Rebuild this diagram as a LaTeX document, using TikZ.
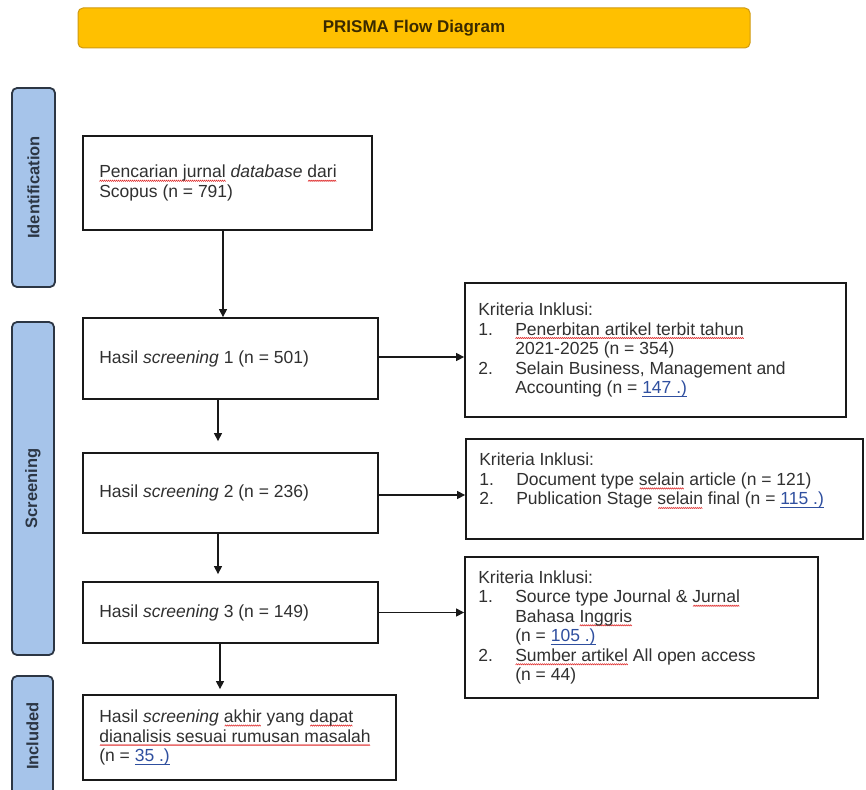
\documentclass[tikz,border=0pt]{standalone}
\usepackage{fontspec}
\setmainfont{Liberation Sans}
\usetikzlibrary{arrows.meta}
\definecolor{titlefill}{HTML}{FFC000}
\definecolor{titledraw}{HTML}{D09A10}
\definecolor{titletext}{HTML}{3A2A00}
\definecolor{sidefill}{HTML}{A6C4EA}
\definecolor{sidedraw}{HTML}{2C3644}
\definecolor{bodytext}{HTML}{303030}
\definecolor{linkblue}{HTML}{2F4F9F}
\definecolor{waveRed}{HTML}{E03030}
\newsavebox\wavebx
\newsavebox\tmpbx
\newcommand\redsq[1]{\sbox\tmpbx{#1}\sbox\wavebx{\tikz[x=1pt,y=1pt,baseline=0pt]{\useasboundingbox (0,0) rectangle (2,1.2);\draw[waveRed,line width=0.6pt,line cap=round](0,0)--(1,1.2)--(2,0);}}\rlap{\lower3.6pt\hbox to \wd\tmpbx{\cleaders\copy\wavebx\hfill}}\usebox\tmpbx}
\newcommand\blueul[1]{{\color{linkblue}\sbox\tmpbx{#1}\rlap{\rule[-2.8pt]{\wd\tmpbx}{0.7pt}}\usebox\tmpbx}}
\begin{document}
\begin{tikzpicture}[x=1pt,y=-1pt,
  titlebox/.style={draw=titledraw,line width=1pt,fill=titlefill,rounded corners=5pt,inner sep=0pt,
    text=titletext,font=\bfseries\fontsize{17}{20}\selectfont},
  sidebox/.style={draw=sidedraw,line width=1.8pt,fill=sidefill,rounded corners=5pt,inner sep=0pt},
  sidelabel/.style={rotate=90,inner sep=0pt,text=sidedraw,font=\bfseries\fontsize{16.5}{19}\selectfont},
  mainbox/.style={draw=black!90,line width=1.8pt,fill=white,inner sep=0pt},
  txt/.style={inner sep=0pt,align=left,text=bodytext,font=\fontsize{17.5}{19.5}\selectfont},
  arr/.style={draw=black!90,line width=1.2pt,-{Triangle[length=8pt,width=8pt]}}]
\clip (0,0) rectangle (866,789);
\fill[white] (0,0) rectangle (866,789);
% title
\node[titlebox,minimum width=672pt,minimum height=40pt] (title) at (414,28) {PRISMA Flow Diagram};
% side boxes
\node[sidebox,minimum width=43pt,minimum height=199pt] (sid) at (33.5,187.5) {};
\node[sidelabel] (lid) at (sid.center) {Identification};
\node[sidebox,minimum width=42pt,minimum height=333pt] (sscr) at (33,488.5) {};
\node[sidelabel] (lscr) at (sscr.center) {Screening};
\node[sidebox,minimum width=41pt,minimum height=120pt] (sinc) at (32.5,736) {};
\node[sidelabel] (linc) at (sinc.center) {Included};
% main boxes
\node[mainbox,minimum width=289pt,minimum height=94pt] (b1) at (227.5,183) {};
\node[txt,anchor=west] (t1) at ([xshift=17pt]b1.west) {\redsq{Pencarian jurnal} \textit{database} \redsq{dari}\\Scopus (n = 791)};
\node[mainbox,minimum width=295pt,minimum height=81pt] (s1) at (230.5,358.5) {};
\node[txt,anchor=west] (ts1) at ([xshift=17pt]s1.west) {Hasil \textit{screening} 1 (n = 501)};
\node[mainbox,minimum width=295pt,minimum height=80pt] (s2) at (230.5,493) {};
\node[txt,anchor=west] (ts2) at ([xshift=17pt]s2.west) {Hasil \textit{screening} 2 (n = 236)};
\node[mainbox,minimum width=295pt,minimum height=61pt] (s3) at (230.5,612.5) {};
\node[txt,anchor=west] (ts3) at ([xshift=17pt]s3.west) {Hasil \textit{screening} 3 (n = 149)};
\node[mainbox,minimum width=313pt,minimum height=85pt] (fin) at (239.5,737.5) {};
\node[txt,anchor=west] (tfin) at ([xshift=17pt]fin.west) {Hasil \textit{screening} \redsq{akhir} yang \redsq{dapat}\\\redsq{dianalisis sesuai rumusan masalah}\\(n = \blueul{35 .)}};
% right boxes
\node[mainbox,minimum width=381pt,minimum height=134pt] (r1) at (655.5,350) {};
\node[txt,anchor=west] (tr1) at ([xshift=14pt]r1.west) {Kriteria Inklusi:\\
\makebox[37pt][l]{1.}\redsq{Penerbitan artikel terbit tahun}\\
\hspace*{37pt}2021-2025 (n = 354)\\
\makebox[37pt][l]{2.}Selain Business, Management and\\
\hspace*{37pt}Accounting (n = \blueul{147 .)}};
\node[mainbox,minimum width=397pt,minimum height=100pt] (r2) at (664.5,489) {};
\node[txt,anchor=north west] (tr2) at ([xshift=14pt,yshift=-15pt]r2.north west) {Kriteria Inklusi:\\
\makebox[37pt][l]{1.}Document type \redsq{selain} article (n = 121)\\
\makebox[37pt][l]{2.}Publication Stage \redsq{selain} final (n = \blueul{115 .)}};
\node[mainbox,minimum width=353pt,minimum height=141pt] (r3) at (641.5,627.5) {};
\node[txt,anchor=west] (tr3) at ([xshift=14pt]r3.west) {Kriteria Inklusi:\\
\makebox[37pt][l]{1.}Source type Journal \& \redsq{Jurnal}\\
\hspace*{37pt}Bahasa \redsq{Inggris}\\
\hspace*{37pt}(n = \blueul{105 .)}\\
\makebox[37pt][l]{2.}\redsq{Sumber artikel} All open access\\
\hspace*{37pt}(n = 44)};
% connectors
\draw[arr] ([xshift=-4.5pt]b1.south) -- ([xshift=-4.5pt]b1.south |- s1.north);
\draw[arr,shorten >=11pt] ([xshift=-12.5pt]s1.south) -- ([xshift=-12.5pt]s1.south |- s2.north);
\draw[arr,shorten >=7pt] ([xshift=-12.5pt]s2.south) -- ([xshift=-12.5pt]s2.south |- s3.north);
\draw[arr,shorten >=5pt] ([xshift=-10.5pt]s3.south) -- ([xshift=-10.5pt]s3.south |- fin.north);
\draw[arr] ([yshift=1.5pt]s1.east) -- ([yshift=1.5pt]s1.east -| r1.west);
\draw[arr] ([yshift=-2pt]s2.east) -- ([yshift=-2pt]s2.east -| r2.west);
\draw[arr] (s3.east) -- (s3.east -| r3.west);
\end{tikzpicture}
\end{document}
